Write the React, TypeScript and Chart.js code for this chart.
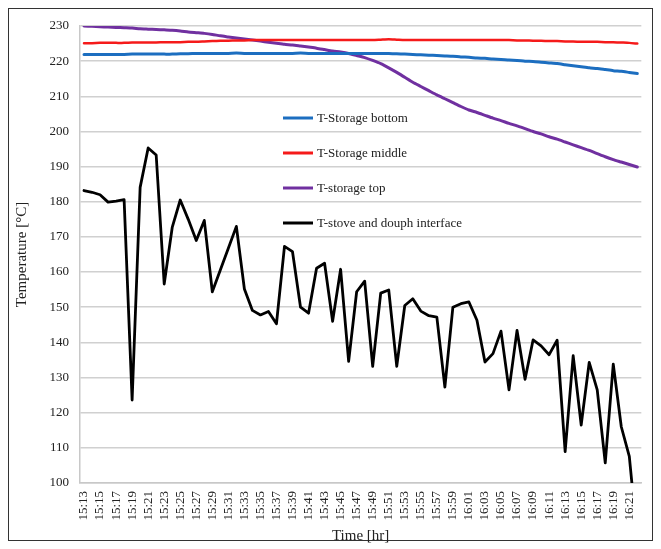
import React, { useEffect, useRef } from "react";
import { Chart, registerables } from "chart.js";

Chart.register(...registerables);

const timeLabels: string[] = [
  "15:13","15:14","15:15","15:16","15:17","15:18","15:19","15:20","15:21","15:22",
  "15:23","15:24","15:25","15:26","15:27","15:28","15:29","15:30","15:31","15:32",
  "15:33","15:34","15:35","15:36","15:37","15:38","15:39","15:40","15:41","15:42",
  "15:43","15:44","15:45","15:46","15:47","15:48","15:49","15:50","15:51","15:52",
  "15:53","15:54","15:55","15:56","15:57","15:58","15:59","16:00","16:01","16:02",
  "16:03","16:04","16:05","16:06","16:07","16:08","16:09","16:10","16:11","16:12",
  "16:13","16:14","16:15","16:16","16:17","16:18","16:19","16:20","16:21","16:22",
];

const storageBottom: number[] = [
  221.9,221.9,221.9,221.9,221.9,221.9,222.0,222.0,222.0,222.0,
  222.0,222.0,222.1,222.1,222.2,222.2,222.2,222.2,222.2,222.3,
  222.2,222.2,222.2,222.2,222.2,222.2,222.2,222.3,222.2,222.2,
  222.2,222.2,222.2,222.2,222.2,222.2,222.2,222.2,222.2,222.1,
  222.0,221.9,221.8,221.7,221.6,221.5,221.4,221.2,221.1,220.9,
  220.8,220.6,220.5,220.3,220.2,220.0,219.9,219.7,219.5,219.3,
  219.0,218.7,218.4,218.1,217.9,217.6,217.3,217.1,216.8,216.5,
];

const storageMiddle: number[] = [
  225.1,225.1,225.2,225.2,225.2,225.2,225.3,225.3,225.3,225.3,
  225.4,225.4,225.4,225.5,225.5,225.6,225.7,225.8,225.8,225.9,
  225.9,226.0,226.0,226.0,226.0,226.0,226.0,226.0,226.0,226.0,
  226.0,226.0,226.0,226.0,226.0,226.0,226.0,226.1,226.2,226.1,
  226.0,226.0,226.0,226.0,226.0,226.0,226.0,226.0,226.0,226.0,
  226.0,226.0,226.0,226.0,225.9,225.9,225.8,225.8,225.7,225.7,
  225.6,225.6,225.5,225.5,225.5,225.4,225.4,225.3,225.2,225.0,
];

const storageTop: number[] = [
  230.0,229.9,229.8,229.7,229.6,229.5,229.4,229.2,229.1,229.0,
  228.9,228.8,228.6,228.3,228.1,227.9,227.6,227.2,226.9,226.6,
  226.3,226.0,225.7,225.4,225.1,224.8,224.6,224.3,224.0,223.7,
  223.3,222.9,222.6,222.2,221.6,221.0,220.2,219.3,218.1,216.8,
  215.4,214.0,212.8,211.6,210.4,209.3,208.2,207.1,206.1,205.4,
  204.6,203.8,203.1,202.3,201.6,200.8,200.0,199.3,198.5,197.8,
  197.0,196.2,195.4,194.6,193.7,192.8,192.0,191.3,190.6,189.9,
];

const stoveDough: number[] = [
  183.2,182.7,182.0,179.9,180.2,180.6,123.6,184.1,195.3,193.3,
  156.6,172.7,180.5,175.0,169.0,174.7,154.4,160.6,166.8,173.0,
  155.2,149.1,147.8,148.8,145.3,167.3,165.8,150.0,148.3,161.1,
  162.5,146.0,160.8,134.6,154.4,157.4,133.2,154.0,154.9,133.2,
  150.5,152.4,148.9,147.6,147.2,127.3,150.0,151.0,151.5,146.3,
  134.4,136.8,143.2,126.5,143.4,129.5,140.7,139.0,136.5,140.6,
  108.9,136.2,116.5,134.3,126.5,105.7,133.8,116.0,107.6,84.0,
];

const seriesNames = [
  "T-Storage bottom",
  "T-Storage middle",
  "T-storage top",
  "T-stove and douph interface",
];

const FONT = "'Liberation Serif', 'Times New Roman', serif";

const legendPlugin = {
  id: "insideLegend",
  afterDraw(chart: any) {
    const ctx = chart.ctx;
    const startX = 283;
    const ys = [118, 153, 188, 223];
    ctx.save();
    chart.data.datasets.forEach((ds: any, i: number) => {
      const y = ys[i];
      ctx.strokeStyle = ds.borderColor;
      ctx.lineWidth = 3;
      ctx.beginPath();
      ctx.moveTo(startX, y);
      ctx.lineTo(startX + 30, y);
      ctx.stroke();
      ctx.fillStyle = "#222";
      ctx.font = "13px " + FONT;
      ctx.textBaseline = "middle";
      ctx.textAlign = "left";
      ctx.fillText(ds.label, startX + 34, y + 1);
    });
    ctx.restore();
  },
};

export default function App() {
  const canvasRef = useRef<HTMLCanvasElement | null>(null);

  useEffect(() => {
    if (!canvasRef.current) return;
    const common = { pointRadius: 0, borderJoinStyle: "round" as const, borderCapStyle: "round" as const };
    const chart = new Chart(canvasRef.current, {
      type: "line",
      data: {
        labels: timeLabels,
        datasets: [
          { label: seriesNames[0], data: storageBottom, borderColor: "#1C6EC0", borderWidth: 3, tension: 0.2, ...common },
          { label: seriesNames[1], data: storageMiddle, borderColor: "#F51A1A", borderWidth: 2.5, tension: 0.2, ...common },
          { label: seriesNames[2], data: storageTop, borderColor: "#7030A0", borderWidth: 3, tension: 0.2, ...common },
          { label: seriesNames[3], data: stoveDough, borderColor: "#000000", borderWidth: 2.8, tension: 0, ...common },
        ],
      },
      options: {
        animation: false,
        responsive: false,
        maintainAspectRatio: false,
        layout: { padding: { left: 0, right: 11, top: 26, bottom: 0 } },
        plugins: {
          legend: { display: false },
          tooltip: { enabled: false },
        },
        scales: {
          x: {
            type: "category",
            offset: true,
            grid: { display: false, drawTicks: false },
            border: { display: true, color: "#c8c8c8", width: 1.5 },
            ticks: {
              autoSkip: false,
              minRotation: 90,
              maxRotation: 90,
              padding: 8,
              color: "#222",
              font: { family: FONT, size: 13 },
              callback: (_v: any, idx: number) => (idx % 2 === 0 ? timeLabels[idx] : ""),
            },
            title: {
              display: true,
              text: "Time [hr]",
              color: "#222",
              font: { family: FONT, size: 15 },
              padding: { top: 0, bottom: 4 },
            },
            afterFit: (scale: any) => {
              scale.height = 66;
            },
          },
          y: {
            min: 100,
            max: 230,
            grid: { color: "#d0d0d0", lineWidth: 1.5, drawTicks: false },
            border: { display: true, color: "#c8c8c8", width: 1.5 },
            ticks: {
              stepSize: 10,
              padding: 11,
              color: "#222",
              font: { family: FONT, size: 13 },
            },
            title: {
              display: true,
              text: "Temperature [°C]",
              color: "#222",
              font: { family: FONT, size: 15 },
              padding: { top: 13, bottom: 0 },
            },
            afterFit: (scale: any) => {
              scale.width = 80;
            },
          },
        },
      },
      plugins: [legendPlugin],
    });
    return () => chart.destroy();
  }, []);

  return (
    <div style={{ position: "fixed", left: 0, top: 0, width: 661, height: 549, background: "#fff" }}>
      <div
        style={{
          position: "absolute",
          left: 8,
          top: 8,
          width: 645,
          height: 533,
          border: "1.5px solid #333",
          boxSizing: "border-box",
        }}
      />
      <canvas
        ref={canvasRef}
        width={661}
        height={549}
        style={{ position: "absolute", left: 0, top: 0, width: 661, height: 549 }}
      />
    </div>
  );
}
